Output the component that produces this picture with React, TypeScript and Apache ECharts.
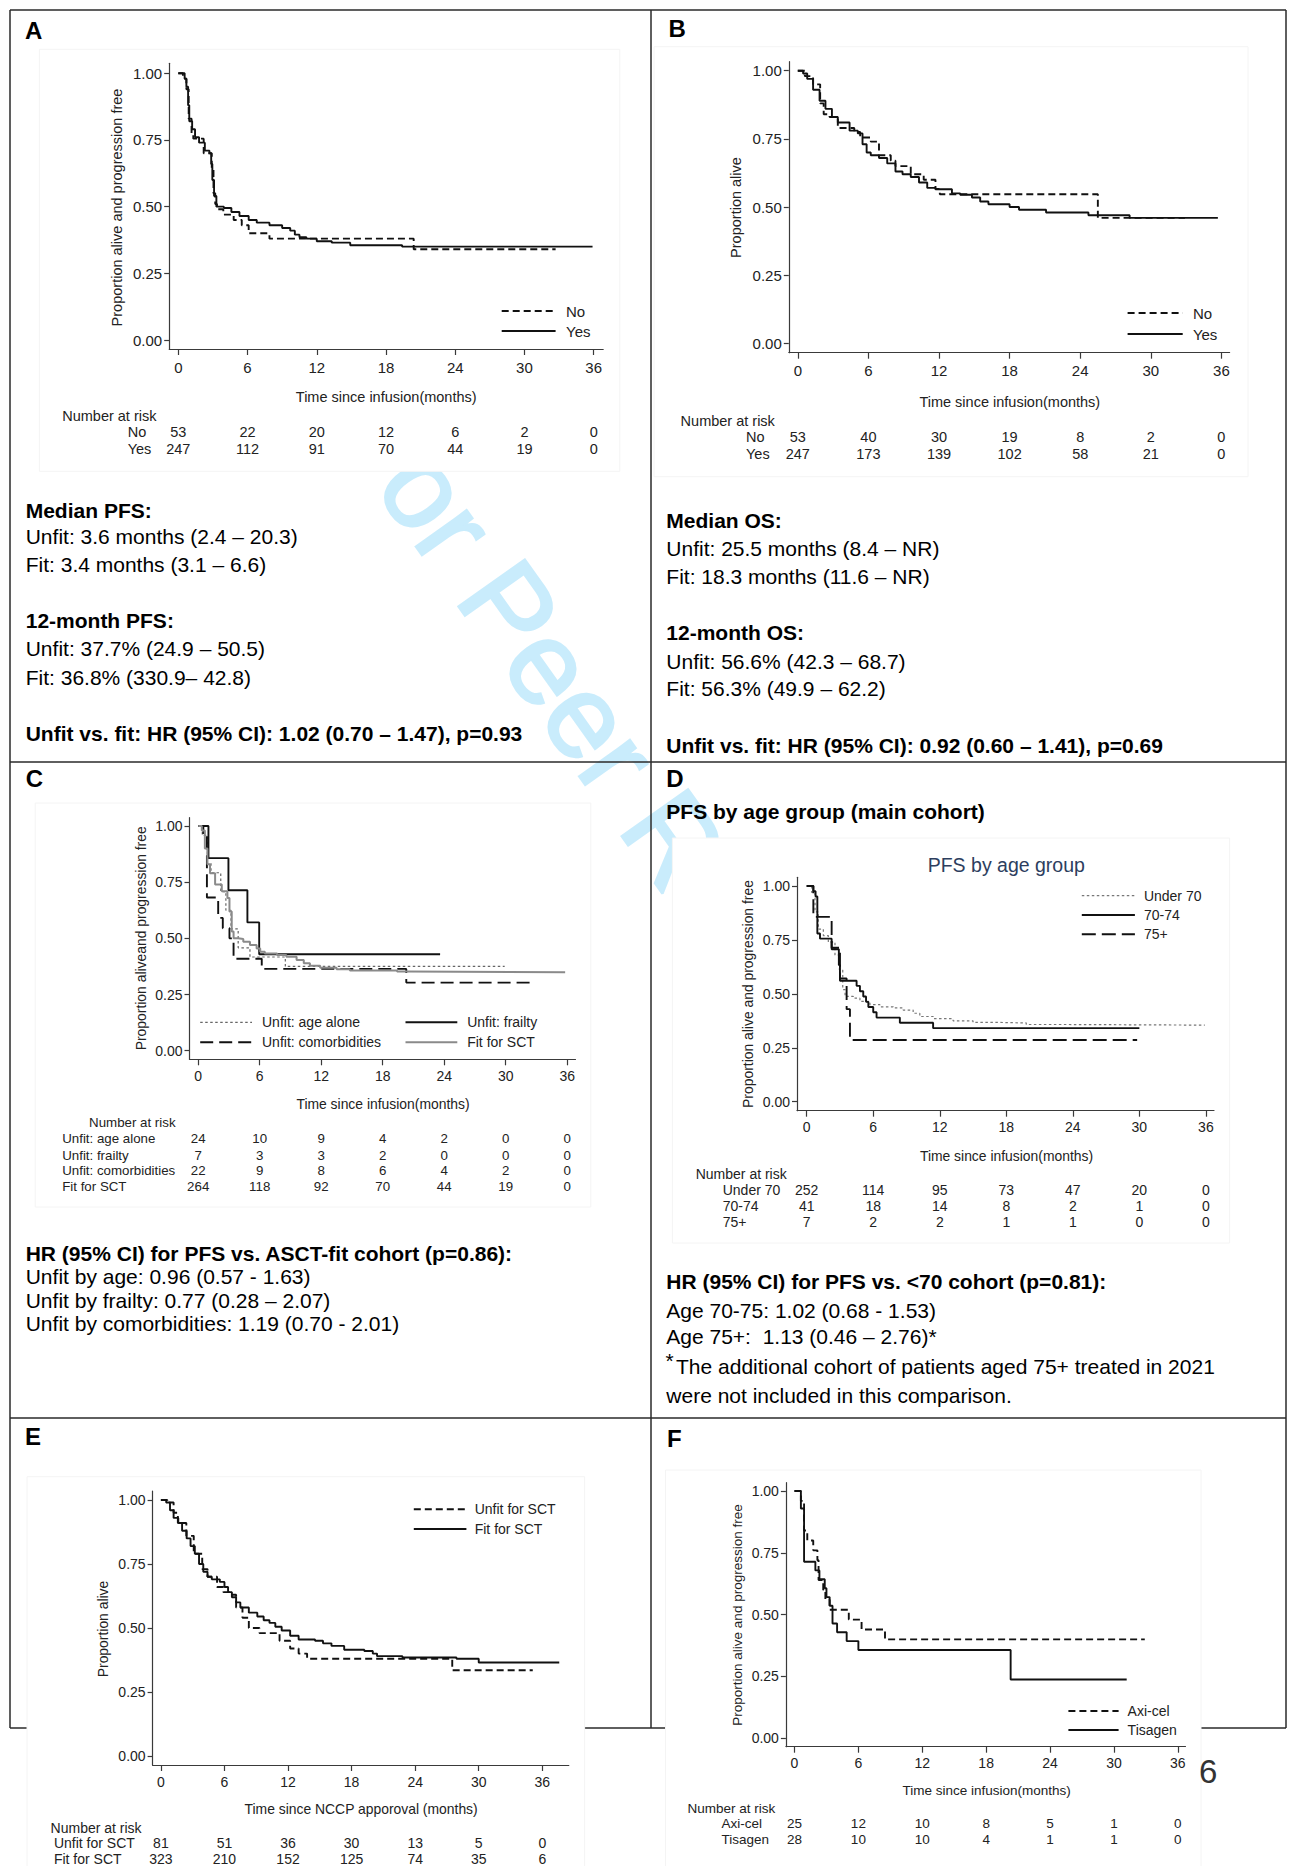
import React, { useEffect, useRef } from "react";
import * as echarts from "echarts";

// ---------- shared ticks ----------
const MONTH_TICKS = [0, 6, 12, 18, 24, 30, 36];
const SURV_TICKS = [0, 0.25, 0.5, 0.75, 1];

// ---------- Panel A: PFS, unfit (No) vs fit (Yes) ----------
const pfsUnfitA = [[0,1],[0.4,0.98],[0.7,0.94],[0.9,0.83],[1.15,0.77],[1.3,0.755],[2.2,0.70],[2.9,0.64],[3.05,0.55],[3.2,0.51],[3.35,0.49],[3.9,0.47],[4.8,0.45],[5.5,0.43],[6.1,0.40],[7.9,0.38],[20.4,0.34],[32.7,0.34]];
const pfsFitA = [[0,1],[0.4,1],[0.55,0.98],[0.7,0.95],[0.85,0.88],[0.95,0.82],[1.2,0.79],[1.45,0.76],[1.8,0.74],[2.3,0.71],[2.7,0.70],[2.85,0.66],[2.95,0.60],[3.1,0.54],[3.3,0.50],[3.95,0.495],[4.6,0.48],[5.3,0.465],[6.1,0.45],[6.8,0.44],[7.9,0.43],[9.0,0.42],[9.7,0.41],[10.1,0.395],[10.5,0.385],[11.1,0.38],[12.0,0.37],[13.3,0.365],[14.9,0.355],[19.4,0.35],[35.9,0.35]];
const riskA_No = [53, 22, 20, 12, 6, 2, 0];
const riskA_Yes = [247, 112, 91, 70, 44, 19, 0];

// ---------- Panel B: OS, unfit (No) vs fit (Yes) ----------
const osUnfitB = [[0,1],[0.6,0.98],[1.3,0.95],[1.9,0.88],[2.2,0.84],[2.7,0.83],[3.4,0.79],[4.8,0.775],[5.3,0.755],[6.2,0.74],[6.9,0.69],[7.9,0.67],[8.3,0.65],[9.6,0.62],[10.7,0.60],[11.7,0.566],[12.07,0.547],[25.5,0.46],[32.9,0.46]];
const osFitB = [[0,1],[0.45,0.99],[0.8,0.97],[1.3,0.93],[1.85,0.89],[2.35,0.86],[2.9,0.83],[3.4,0.81],[4.4,0.78],[5.1,0.77],[5.5,0.73],[5.85,0.70],[6.2,0.69],[6.9,0.68],[7.6,0.66],[8.3,0.63],[8.9,0.62],[9.6,0.61],[10.3,0.59],[11.0,0.57],[11.7,0.565],[13.1,0.55],[13.8,0.545],[14.8,0.535],[15.5,0.52],[16.2,0.51],[18.0,0.50],[18.8,0.49],[21.1,0.48],[24.7,0.47],[28.2,0.46],[35.7,0.46]];
const riskB_No = [53, 40, 30, 19, 8, 2, 0];
const riskB_Yes = [247, 173, 139, 102, 58, 21, 0];

// ---------- Panel C: PFS by reason for unfitness ----------
const pfsAgeC = [[0,1],[0.4,0.958],[0.9,0.833],[1.25,0.792],[2.2,0.708],[2.7,0.625],[3.2,0.542],[3.9,0.458],[5.05,0.417],[8.5,0.375],[29.9,0.375]];
const pfsFrailC = [[0,1],[1.0,0.857],[2.95,0.714],[4.8,0.571],[5.95,0.429],[23.6,0.429]];
const pfsComorbC = [[0,1],[0.5,0.955],[0.85,0.682],[1.95,0.591],[2.4,0.545],[3.05,0.5],[3.45,0.409],[6.2,0.364],[20.3,0.303],[32.8,0.303]];
const pfsFitC = [[0,1],[0.35,0.98],[0.65,0.9],[0.9,0.83],[1.15,0.79],[1.65,0.74],[2.3,0.71],[2.85,0.68],[3.05,0.62],[3.27,0.53],[3.45,0.50],[3.9,0.497],[4.4,0.485],[5.05,0.47],[5.7,0.455],[6.05,0.44],[6.5,0.433],[7.7,0.426],[8.6,0.418],[9.6,0.404],[10.3,0.389],[10.9,0.378],[11.9,0.369],[13.5,0.363],[14.8,0.357],[19.4,0.352],[20.3,0.349],[35.8,0.349]];
const riskC_Age = [24, 10, 9, 4, 2, 0, 0];
const riskC_Frail = [7, 3, 3, 2, 0, 0, 0];
const riskC_Comorb = [22, 9, 8, 6, 4, 2, 0];
const riskC_Fit = [264, 118, 92, 70, 44, 19, 0];

// ---------- Panel D: PFS by age group ----------
const pfsUnder70D = [[0,1],[0.45,0.97],[0.75,0.88],[1.05,0.80],[1.5,0.77],[1.95,0.74],[2.55,0.68],[2.95,0.61],[3.25,0.52],[3.46,0.488],[4.2,0.48],[4.8,0.465],[5.7,0.45],[6.6,0.44],[7.8,0.435],[8.7,0.425],[9.6,0.41],[10.2,0.395],[11.4,0.385],[13.2,0.375],[15.0,0.368],[16.8,0.365],[19.8,0.358],[22.8,0.355],[35.9,0.355]];
const pfs7074D = [[0,1],[0.6,0.976],[0.8,0.951],[0.96,0.78],[1.2,0.756],[2.25,0.707],[2.9,0.634],[3.0,0.561],[4.5,0.537],[4.8,0.512],[5.1,0.488],[5.35,0.463],[5.56,0.439],[6.0,0.415],[6.3,0.39],[8.4,0.366],[11.4,0.341],[30.0,0.341]];
const pfs75D = [[0,1],[0.6,0.857],[2.25,0.714],[3.0,0.571],[3.6,0.429],[3.9,0.286],[29.8,0.286]];
const riskD_Under70 = [252, 114, 95, 73, 47, 20, 0];
const riskD_7074 = [41, 18, 14, 8, 2, 1, 0];
const riskD_75 = [7, 2, 2, 1, 1, 0, 0];

// ---------- Panel E: OS since NCCP approval ----------
const osUnfitE = [[0,1],[0.6,0.99],[1.2,0.95],[1.6,0.91],[2.4,0.86],[3.1,0.79],[3.9,0.73],[4.4,0.70],[5.3,0.66],[5.9,0.64],[6.5,0.63],[7.1,0.58],[7.7,0.54],[8.3,0.50],[9.3,0.48],[11.2,0.45],[12.2,0.42],[13.0,0.40],[13.8,0.38],[27.5,0.335],[35.1,0.335]];
const osFitE = [[0,1],[0.5,0.99],[0.86,0.96],[1.2,0.93],[1.64,0.91],[2.0,0.88],[2.43,0.85],[2.8,0.82],[3.2,0.79],[3.6,0.75],[4.0,0.72],[4.4,0.70],[4.8,0.69],[5.56,0.68],[6.0,0.66],[6.34,0.64],[6.7,0.62],[7.1,0.60],[7.5,0.58],[8.3,0.56],[9.1,0.545],[9.7,0.53],[10.25,0.52],[10.8,0.505],[11.4,0.49],[12.2,0.47],[13.0,0.455],[14.55,0.45],[15.3,0.44],[16.1,0.43],[17.3,0.415],[19.2,0.41],[20.0,0.40],[20.4,0.39],[22.8,0.385],[27.9,0.38],[30.0,0.365],[37.6,0.365]];
const riskE_Unfit = [81, 51, 36, 30, 13, 5, 0];
const riskE_Fit = [323, 210, 152, 125, 74, 35, 6];

// ---------- Panel F: PFS by product ----------
const pfsAxiF = [[0,1],[0.6,0.96],[0.9,0.84],[1.2,0.80],[1.76,0.76],[2.15,0.72],[2.26,0.64],[2.7,0.60],[2.9,0.56],[3.3,0.52],[5.1,0.48],[6.3,0.44],[8.5,0.40],[32.9,0.40]];
const pfsTisF = [[0,1],[0.6,0.929],[0.9,0.714],[1.96,0.679],[2.34,0.643],[2.84,0.607],[3.0,0.571],[3.3,0.536],[3.57,0.464],[4.0,0.429],[4.9,0.393],[6.0,0.357],[20.3,0.238],[31.2,0.238]];
const riskF_Axi = [25, 12, 10, 8, 5, 1, 0];
const riskF_Tis = [28, 10, 10, 4, 1, 1, 0];

// ---------- styling ----------
const FONT = "'Liberation Sans', Arial, Helvetica, sans-serif";
const AXIS = "#3a3a3a";
const TXT = "#222";
const BLK = "#111";
const GRAY = "#8a8a8a";
const DASH = [7, 4];
const LONG = [13, 6];
const DOT = [2.5, 2.5];

type S = { data: number[][]; color: string; width: number; dash: any; label: string; ly: number };
type R = { label: string; values: number[]; y: number };
type P = {
  gl: number; gr: number; gt: number; gb: number; x0: number; x36: number; y1: number; y0: number;
  tickY: number; tickFs: number; titleFs: number; riskFs: number;
  xTitle: string; xt: [number, number]; yTitle: string; yt: [number, number];
  series: S[]; lx1: number; lx2: number; ltx: number; lfs: number;
  riskHead: [number, number]; riskX: number; risk: R[];
};

const PANELS: P[] = [
  { gl: 169.2, gr: 603.2, gt: 63.3, gb: 349, x0: 178.3, x36: 593.7, y1: 73.3, y0: 340,
    tickY: 367, tickFs: 15, titleFs: 14.5, riskFs: 14.5,
    xTitle: "Time since infusion(months)", xt: [386.2, 397],
    yTitle: "Proportion alive and progression free", yt: [117.3, 207.5],
    series: [
      { data: pfsUnfitA, color: BLK, width: 1.9, dash: DASH, label: "No", ly: 311 },
      { data: pfsFitA, color: BLK, width: 1.9, dash: "solid", label: "Yes", ly: 331 },
    ], lx1: 501.7, lx2: 555.6, ltx: 566, lfs: 15,
    riskHead: [62.2, 416], riskX: 127.7,
    risk: [{ label: "No", values: riskA_No, y: 432 }, { label: "Yes", values: riskA_Yes, y: 449 }] },
  { gl: 788.8, gr: 1229.6, gt: 61.7, gb: 352.7, x0: 797.8, x36: 1221.4, y1: 70.7, y0: 343.3,
    tickY: 370.7, tickFs: 15, titleFs: 14.5, riskFs: 14.5,
    xTitle: "Time since infusion(months)", xt: [1009.8, 401.7],
    yTitle: "Proportion alive", yt: [735.7, 207.5],
    series: [
      { data: osUnfitB, color: BLK, width: 1.9, dash: DASH, label: "No", ly: 313 },
      { data: osFitB, color: BLK, width: 1.9, dash: "solid", label: "Yes", ly: 334 },
    ], lx1: 1127.6, lx2: 1182.7, ltx: 1192.9, lfs: 15,
    riskHead: [680.6, 420.7], riskX: 746,
    risk: [{ label: "No", values: riskB_No, y: 437.3 }, { label: "Yes", values: riskB_Yes, y: 454 }] },
  { gl: 189.5, gr: 575.5, gt: 817.7, gb: 1059.3, x0: 198.2, x36: 567.2, y1: 826, y0: 1050.7,
    tickY: 1076, tickFs: 14, titleFs: 13.9, riskFs: 13.3,
    xTitle: "Time since infusion(months)", xt: [383, 1104],
    yTitle: "Proportion aliveand progression free", yt: [141, 938.3],
    series: [
      { data: pfsAgeC, color: "#666", width: 1.2, dash: DOT, label: "Unfit: age alone", ly: 1022.3 },
      { data: pfsComorbC, color: BLK, width: 1.9, dash: LONG, label: "Unfit: comorbidities", ly: 1042.3 },
      { data: pfsFrailC, color: BLK, width: 1.9, dash: "solid", label: "Unfit: frailty", ly: 1022.3 },
      { data: pfsFitC, color: GRAY, width: 2, dash: "solid", label: "Fit for SCT", ly: 1042.3 },
    ], lx1: 200.2, lx2: 252, ltx: 262, lfs: 14,
    riskHead: [89.1, 1122.7], riskX: 62.2,
    risk: [
      { label: "Unfit: age alone", values: riskC_Age, y: 1138.7 },
      { label: "Unfit: frailty", values: riskC_Frail, y: 1155 },
      { label: "Unfit: comorbidities", values: riskC_Comorb, y: 1170.7 },
      { label: "Fit for SCT", values: riskC_Fit, y: 1186.7 },
    ] },
  { gl: 797, gr: 1214, gt: 877.3, gb: 1110.7, x0: 806.7, x36: 1205.9, y1: 886, y0: 1101.7,
    tickY: 1127.3, tickFs: 14, titleFs: 13.9, riskFs: 14,
    xTitle: "Time since infusion(months)", xt: [1006.5, 1155.7],
    yTitle: "Proportion alive and progression free", yt: [748, 994],
    series: [
      { data: pfsUnder70D, color: "#777", width: 1.2, dash: DOT, label: "Under 70", ly: 895.7 },
      { data: pfs7074D, color: BLK, width: 1.9, dash: "solid", label: "70-74", ly: 915 },
      { data: pfs75D, color: BLK, width: 1.9, dash: [14, 6], label: "75+", ly: 934.3 },
    ], lx1: 1081.8, lx2: 1134.9, ltx: 1143.9, lfs: 14,
    riskHead: [695.7, 1174], riskX: 722.7,
    risk: [
      { label: "Under 70", values: riskD_Under70, y: 1190 },
      { label: "70-74", values: riskD_7074, y: 1205.7 },
      { label: "75+", values: riskD_75, y: 1222.3 },
    ] },
  { gl: 152.6, gr: 568.8, gt: 1491, gb: 1765, x0: 160.9, x36: 542.3, y1: 1500, y0: 1756,
    tickY: 1781.7, tickFs: 14, titleFs: 13.9, riskFs: 14,
    xTitle: "Time since NCCP apporoval (months)", xt: [361.1, 1809.3],
    yTitle: "Proportion alive", yt: [102.8, 1629],
    series: [
      { data: osUnfitE, color: BLK, width: 1.9, dash: DASH, label: "Unfit for SCT", ly: 1509.3 },
      { data: osFitE, color: BLK, width: 1.9, dash: "solid", label: "Fit for SCT", ly: 1529 },
    ], lx1: 413.8, lx2: 466.4, ltx: 474.7, lfs: 14,
    riskHead: [50.6, 1828.3], riskX: 53.9,
    risk: [{ label: "Unfit for SCT", values: riskE_Unfit, y: 1843.3 }, { label: "Fit for SCT", values: riskE_Fit, y: 1859.3 }] },
  { gl: 785.9, gr: 1185.5, gt: 1482.7, gb: 1746.7, x0: 794.5, x36: 1177.8, y1: 1491, y0: 1738.3,
    tickY: 1763.3, tickFs: 14, titleFs: 13.5, riskFs: 13.5,
    xTitle: "Time since infusion(months)", xt: [986.7, 1790],
    yTitle: "Proportion alive and progression free", yt: [737.8, 1615],
    series: [
      { data: pfsAxiF, color: BLK, width: 1.9, dash: DASH, label: "Axi-cel", ly: 1711 },
      { data: pfsTisF, color: BLK, width: 1.9, dash: "solid", label: "Tisagen", ly: 1730 },
    ], lx1: 1068.4, lx2: 1118.6, ltx: 1127.6, lfs: 14,
    riskHead: [687.6, 1808.3], riskX: 721.4,
    risk: [{ label: "Axi-cel", values: riskF_Axi, y: 1823.3 }, { label: "Tisagen", values: riskF_Tis, y: 1839 }] },
];

// plot "image" boxes (white background) [x, y, w, h]
const BOXES: number[][] = [
  [39.4, 49.3, 580.4, 422],
  [654, 46.7, 594, 430],
  [35.2, 803, 555.6, 404],
  [672.4, 838, 557.2, 405],
  [27, 1476.7, 557.6, 400],
  [665.5, 1470, 535.5, 400],
];

function txt(text: string, x: number, y: number, o: any = {}) {
  return {
    type: "text", x, y, z: 8, silent: true, rotation: o.rot || 0,
    style: {
      text, fontSize: o.fs || 21, fontWeight: o.bold ? "bold" : "normal", fontFamily: FONT,
      fill: o.color || "#000", align: o.align || "left", verticalAlign: "middle",
    },
  };
}
function seg(x1: number, y1: number, x2: number, y2: number, stroke: string, lw: number, dash: any, z = 8) {
  return { type: "line", z, silent: true, shape: { x1, y1, x2, y2 }, style: { stroke, lineWidth: lw, lineDash: dash === "solid" ? null : dash } };
}

function buildOption() {
  const grid: any[] = [], xAxis: any[] = [], yAxis: any[] = [], series: any[] = [], graphic: any[] = [];

  // watermark (below everything) and page-number fragment
  graphic.push({ type: "text", x: 365, y: 404, rotation: -0.953, z: 1, silent: true,
    style: { text: "For Peer Review", fontSize: 118, fontFamily: FONT, fill: "#c9ecfc", stroke: "#c9ecfc", lineWidth: 2.5,
      align: "left", verticalAlign: "middle" } });
  graphic.push({ type: "text", x: 1199, y: 1771.7, z: 4, silent: true,
    style: { text: "6", fontSize: 33, fontFamily: FONT, fill: "#333", align: "left", verticalAlign: "middle" } });

  // frame
  const B = "#2a2a2a", BW = 1.5;
  [[10, 10, 1286, 10], [10, 762, 1286, 762], [10, 1418, 1286, 1418], [10, 1728, 1286, 1728],
   [10, 10, 10, 1728], [651, 10, 651, 1728], [1286, 10, 1286, 1728]].forEach((l) =>
    graphic.push(seg(l[0], l[1], l[2], l[3], B, BW, "solid", 2)));

  BOXES.forEach((b) => graphic.push({ type: "rect", z: 3, silent: true, shape: { x: b[0], y: b[1], width: b[2], height: b[3] },
    style: { fill: "#fff", stroke: "#f4f4f4", lineWidth: 1 } }));

  // panel letters
  [["A", 24.9, 30], ["B", 668.4, 28], ["C", 25.7, 778], ["D", 666.3, 778], ["E", 24.9, 1436.7], ["F", 667, 1438.3]].forEach((l: any) =>
    graphic.push(txt(l[0], l[1], l[2], { fs: 24, bold: true })));

  PANELS.forEach((p, gi) => {
    const ppm = (p.x36 - p.x0) / 36;
    const ppu = p.y0 - p.y1;
    const xmin = (p.gl - p.x0) / ppm, xmax = (p.gr - p.x0) / ppm;
    const ymin = (p.y0 - p.gb) / ppu, ymax = (p.y0 - p.gt) / ppu;
    grid.push({ left: p.gl, top: p.gt, width: p.gr - p.gl, height: p.gb - p.gt, containLabel: false, outerBoundsMode: "none", show: false });
    const mainX = xAxis.length;
    xAxis.push({
      gridIndex: gi, type: "value", position: "bottom", min: xmin, max: xmax, z: 5,
      axisLine: { show: true, onZero: false, lineStyle: { color: AXIS, width: 1.2 } },
      axisTick: { show: true, inside: false, length: 6, customValues: MONTH_TICKS, lineStyle: { color: AXIS, width: 1.2 } },
      axisLabel: { show: true, customValues: MONTH_TICKS, margin: p.tickY - p.gb, verticalAlign: "middle",
        fontSize: p.tickFs, color: TXT, fontFamily: FONT, formatter: (v: number) => String(Math.round(v)) },
      splitLine: { show: false }, axisPointer: { show: false },
    });
    p.risk.forEach((r) => {
      xAxis.push({
        gridIndex: gi, type: "value", position: "bottom", offset: r.y - p.gb, min: xmin, max: xmax, z: 5,
        axisLine: { show: false, onZero: false }, axisTick: { show: false }, splitLine: { show: false },
        axisLabel: { show: true, customValues: MONTH_TICKS, margin: 0, verticalAlign: "middle",
          fontSize: p.riskFs, color: TXT, fontFamily: FONT,
          formatter: (v: number) => String(r.values[Math.round(v / 6)]) },
      });
    });
    yAxis.push({
      gridIndex: gi, type: "value", min: ymin, max: ymax, z: 5, position: "left",
      axisLine: { show: true, onZero: false, lineStyle: { color: AXIS, width: 1.2 } },
      axisTick: { show: true, inside: false, length: 5, customValues: SURV_TICKS, lineStyle: { color: AXIS, width: 1.2 } },
      axisLabel: { show: true, customValues: SURV_TICKS, margin: 7, fontSize: p.tickFs, color: TXT, fontFamily: FONT,
        formatter: (v: number) => v.toFixed(2) },
      splitLine: { show: false },
    });
    p.series.forEach((s) => {
      series.push({
        type: "line", step: "end", name: s.label, xAxisIndex: mainX, yAxisIndex: gi, data: s.data,
        symbol: "none", showSymbol: false, z: 6, silent: true, clip: true,
        lineStyle: { color: s.color, width: s.width, type: s.dash, cap: "butt" },
      });
      // legend key
      const right = gi === 2 && (s.label === "Unfit: frailty" || s.label === "Fit for SCT");
      const lx1 = right ? 405.5 : p.lx1;
      const lx2 = right ? 457.3 : p.lx2;
      const ltx = right ? 467.2 : p.ltx;
      graphic.push(seg(lx1, s.ly, lx2, s.ly, s.color, s.width, s.dash));
      graphic.push(txt(s.label, ltx, s.ly, { fs: p.lfs, color: TXT }));
    });
    graphic.push(txt(p.xTitle, p.xt[0], p.xt[1], { fs: p.titleFs, color: TXT, align: "center" }));
    graphic.push(txt(p.yTitle, p.yt[0], p.yt[1], { fs: p.titleFs, color: TXT, align: "center", rot: Math.PI / 2 }));
    graphic.push(txt("Number at risk", p.riskHead[0], p.riskHead[1], { fs: p.riskFs, color: TXT }));
    p.risk.forEach((r) => graphic.push(txt(r.label, p.riskX, r.y, { fs: p.riskFs, color: TXT })));
  });

  // D chart title
  graphic.push(txt("PFS by age group", 1006.3, 865, { fs: 19.5, color: "#2d3e5e", align: "center" }));

  // text blocks
  const blocks: any[] = [
    ["Median PFS:", 25.7, 510, true], ["Unfit: 3.6 months (2.4 – 20.3)", 25.7, 536, false], ["Fit: 3.4 months (3.1 – 6.6)", 25.7, 564, false],
    ["12-month PFS:", 25.7, 620, true], ["Unfit: 37.7% (24.9 – 50.5)", 25.7, 648, false], ["Fit: 36.8% (330.9– 42.8)", 25.7, 677, false],
    ["Unfit vs. fit: HR (95% CI): 1.02 (0.70 – 1.47), p=0.93", 25.7, 733, true],
    ["Median OS:", 666.3, 520, true], ["Unfit: 25.5 months (8.4 – NR)", 666.3, 548.3, false], ["Fit: 18.3 months (11.6 – NR)", 666.3, 576.7, false],
    ["12-month OS:", 666.3, 632.3, true], ["Unfit: 56.6% (42.3 – 68.7)", 666.3, 661.7, false], ["Fit: 56.3% (49.9 – 62.2)", 666.3, 688.3, false],
    ["Unfit vs. fit: HR (95% CI): 0.92 (0.60 – 1.41), p=0.69", 666.3, 745, true],
    ["HR (95% CI) for PFS vs. ASCT-fit cohort (p=0.86):", 25.7, 1253.3, true],
    ["Unfit by age: 0.96 (0.57 - 1.63)", 25.7, 1276.7, false], ["Unfit by frailty: 0.77 (0.28 – 2.07)", 25.7, 1300, false],
    ["Unfit by comorbidities: 1.19 (0.70 - 2.01)", 25.7, 1323.3, false],
    ["PFS by age group (main cohort)", 666.3, 811.7, true],
    ["HR (95% CI) for PFS vs. <70 cohort (p=0.81):", 666.3, 1281.7, true],
    ["Age 70-75: 1.02 (0.68 - 1.53)", 666.3, 1310, false], ["Age 75+:  1.13 (0.46 – 2.76)*", 666.3, 1336.7, false],
    ["The additional cohort of patients aged 75+ treated in 2021", 676, 1366.7, false],
    ["were not included in this comparison.", 666.3, 1395, false],
  ];
  blocks.forEach((b) => graphic.push(txt(b[0], b[1], b[2], { fs: 21, bold: b[3] })));
  graphic.push(txt("*", 665.5, 1360, { fs: 21 }));

  return {
    animation: false,
    backgroundColor: "#fff",
    textStyle: { fontFamily: FONT },
    grid, xAxis, yAxis, series, graphic,
  };
}

export default function App() {
  const ref = useRef<HTMLDivElement>(null);
  useEffect(() => {
    document.body.style.margin = "0";
    if (!ref.current) return;
    const chart = echarts.init(ref.current, undefined, { renderer: "svg" });
    chart.setOption(buildOption() as any);
    return () => chart.dispose();
  }, []);
  return <div ref={ref} style={{ width: 1290, height: 1866 }} />;
}
